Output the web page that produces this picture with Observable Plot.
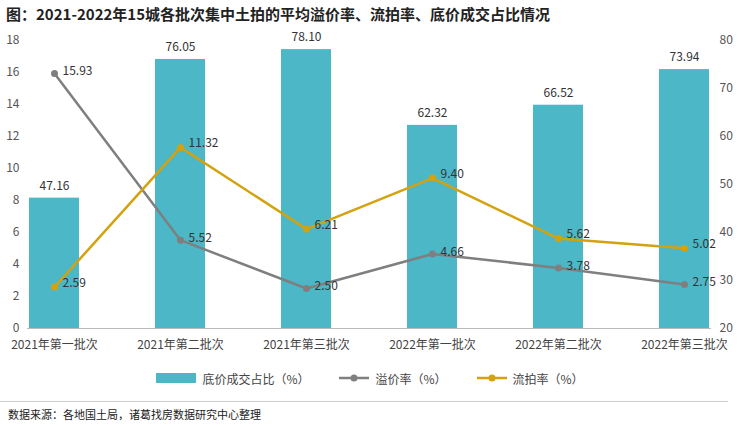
<!DOCTYPE html>
<html><head><meta charset="utf-8">
<script src="https://cdn.jsdelivr.net/npm/d3@7"></script>
<script src="https://cdn.jsdelivr.net/npm/@observablehq/plot@0.6"></script>
<style>
body{margin:0;background:#fff;font-family:"Noto Sans CJK SC",sans-serif;width:740px;}
#title{height:28px;line-height:28px;font-size:15px;font-weight:bold;color:#222;padding-left:6px;}
#legend{display:flex;justify-content:center;gap:30px;font-size:12px;color:#444;height:26px;align-items:center;margin-top:2px}
#legend span{display:inline-flex;align-items:center;gap:6px}
#src{font-size:11px;color:#222;padding-left:8px;margin-top:10px;border-top:1px solid #ccc;padding-top:4px;width:720px}
</style></head><body>
<div id="title">图：2021-2022年15城各批次集中土拍的平均溢价率、流拍率、底价成交占比情况</div>
<div id="chart"></div>
<div id="legend">
<span><svg width="40" height="10"><rect width="40" height="10" fill="#4bb7c7"/></svg>底价成交占比（%）</span>
<span><svg width="30" height="10"><line x1="0" y1="5" x2="30" y2="5" stroke="#7f7f7f" stroke-width="2.5"/><circle cx="15" cy="5" r="3.5" fill="#7f7f7f"/></svg>溢价率（%）</span>
<span><svg width="30" height="10"><line x1="0" y1="5" x2="30" y2="5" stroke="#d4a20e" stroke-width="2.5"/><circle cx="15" cy="5" r="3.5" fill="#d4a20e"/></svg>流拍率（%）</span>
</div>
<div id="src">数据来源：各地国土局，诸葛找房数据研究中心整理</div>
<script>
const categories=["2021年第一批次","2021年第二批次","2021年第三批次","2022年第一批次","2022年第二批次","2022年第三批次"];
const floorShare=[47.16,76.05,78.10,62.32,66.52,73.94];
const premium=[15.93,5.52,2.50,4.66,3.78,2.75];
const unsold=[2.59,11.32,6.21,9.40,5.62,5.02];
const rightTicks=[20,30,40,50,60,70,80];
const toLeft=v=>(v-20)*18/60;
const rows=categories.map((c,i)=>({c,bar:floorShare[i],p:premium[i],u:unsold[i]}));
const plot=Plot.plot({
  width:740,height:335,marginTop:12,marginBottom:35,marginLeft:27,marginRight:29,
  style:{fontSize:"12px",fontFamily:"Noto Sans CJK SC"},
  x:{domain:categories,paddingInner:0.6,paddingOuter:0,align:0.5,label:null,axis:null},
  y:{domain:[0,18],ticks:d3.range(0,19,2),label:null},
  marks:[
    Plot.axisY({ticks:d3.range(0,19,2),tickSize:0,tickPadding:8,label:null,fill:"#555"}),
    Plot.axisY(rightTicks.map(toLeft),{anchor:"right",tickSize:0,tickPadding:8,label:null,fill:"#555",tickFormat:(d,i)=>rightTicks[i]}),
    Plot.axisX({tickSize:0,tickPadding:12,label:null,fill:"#444"}),
    Plot.barY(rows,{x:"c",y:d=>toLeft(d.bar),fill:"#4bb7c7"}),
    Plot.ruleY([0],{stroke:"#bbb"}),
    Plot.text(rows,{x:"c",y:d=>toLeft(d.bar),text:d=>d.bar.toFixed(2),dy:-12,fill:"#333"}),
    Plot.line(rows,{x:"c",y:"p",stroke:"#7f7f7f",strokeWidth:2.5}),
    Plot.dot(rows,{x:"c",y:"p",fill:"#7f7f7f",r:3.5}),
    Plot.text(rows,{x:"c",y:"p",text:d=>d.p.toFixed(2),dx:8,dy:-2,textAnchor:"start",fill:"#333"}),
    Plot.line(rows,{x:"c",y:"u",stroke:"#d4a20e",strokeWidth:2.5}),
    Plot.dot(rows,{x:"c",y:"u",fill:"#d4a20e",r:3.5}),
    Plot.text(rows,{x:"c",y:"u",text:d=>d.u.toFixed(2),dx:8,dy:-4,textAnchor:"start",fill:"#333"})
  ]
});
document.getElementById("chart").appendChild(plot);
</script></body></html>
